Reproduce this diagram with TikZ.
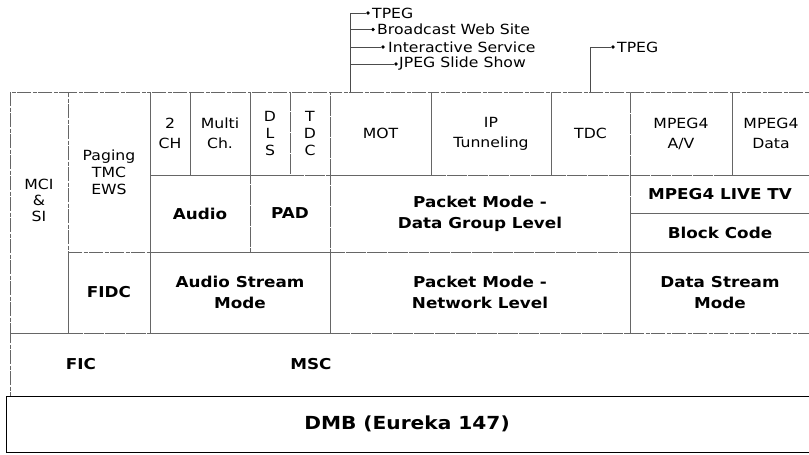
\documentclass[tikz,border=0pt]{standalone}
\usepackage{fontspec}
\setmainfont[FakeStretch=1.12]{DejaVu Sans}
\usetikzlibrary{positioning}

\tikzset{
  cell/.style={draw=black!60, line width=0.6pt, dash pattern=on 14pt off 1.5pt on 4pt off 1.5pt,
    inner sep=0pt, align=center, font=\fontsize{14}{17}\selectfont},
  boldcell/.style={cell, font=\bfseries\fontsize{15}{21}\selectfont},
  txt/.style={inner sep=0pt, align=center, font=\fontsize{14}{16}\selectfont},
  boldtxt/.style={inner sep=0pt, font=\bfseries\fontsize{15}{19}\selectfont},
  tree/.style={draw=black!70, line width=0.5pt},
  dot/.style={circle, fill=black, inner sep=0pt, minimum size=3.6pt},
  anno/.style={anchor=west, inner sep=0pt, font=\fontsize{14}{15}\selectfont}
}

\begin{document}
\begin{tikzpicture}[x=1pt, y=-1pt]
      \useasboundingbox (0,0) rectangle (809,455);
      % left columns
      \node[cell, minimum width=58pt, minimum height=241pt] (mci) at (39,212.5) {};
      \node[txt] (mcitxt) at (39,200) {MCI\\\&\\SI};
      \node[cell, minimum width=82pt, minimum height=160pt] (paging) at (109,172) {Paging\\TMC\\EWS};
      \node[boldcell, minimum width=82pt, minimum height=81pt] (fidc) at (109,292.5) {FIDC};
      % top row
      \node[cell, minimum width=40pt, minimum height=83pt] (ch2) at (170,133.5) {2\\[3pt]CH};
      \node[cell, minimum width=60pt, minimum height=83pt] (multi) at (220,133.5) {Multi\\[3pt]Ch.};
      \node[cell, minimum width=40pt, minimum height=83pt] (dls) at (270,133.5) {D\\L\\S};
      \node[cell, minimum width=40pt, minimum height=83pt] (tdcv) at (310,133.5) {T\\D\\C};
      \node[cell, minimum width=101pt, minimum height=83pt] (mot) at (380.5,133.5) {MOT};
      \node[cell, minimum width=120pt, minimum height=83pt] (ipt) at (491,133.5) {IP\\[3pt]Tunneling};
      \node[cell, minimum width=79pt, minimum height=83pt] (tdc) at (590.5,133.5) {TDC};
      \node[cell, minimum width=102pt, minimum height=83pt] (mpav) at (681,133.5) {MPEG4\\[3pt]A/V};
      \node[cell, minimum width=78pt, minimum height=83pt] (mpdata) at (771,133.5) {MPEG4\\[3pt]Data};
      % second row
      \node[boldcell, minimum width=100pt, minimum height=77pt] (audio) at (200,213.5) {Audio};
      \node[boldcell, minimum width=80pt, minimum height=77pt] (pad) at (290,213.5) {PAD};
      \node[boldcell, minimum width=300pt, minimum height=77pt] (dgl) at (480,213.5) {Packet Mode -\\Data Group Level};
      \node[boldcell, minimum width=180pt, minimum height=38pt] (live) at (720,194) {MPEG4 LIVE TV};
      \node[boldcell, minimum width=180pt, minimum height=39pt] (block) at (720,232.5) {Block Code};
      % third row
      \node[boldcell, minimum width=180pt, minimum height=81pt] (asm) at (240,292.5) {Audio Stream\\Mode};
      \node[boldcell, minimum width=300pt, minimum height=81pt] (netl) at (480,292.5) {Packet Mode -\\Network Level};
      \node[boldcell, minimum width=180pt, minimum height=81pt] (dsm) at (720,292.5) {Data Stream\\Mode};
      % channels
      \node[cell, minimum width=800pt, minimum height=63pt] (chan) at (410,364.5) {};
      \node[boldtxt] (fic) at (81,364) {FIC};
      \node[boldtxt] (msc) at (311,364) {MSC};
      \node[draw=black, line width=0.9pt, minimum width=804pt, minimum height=56pt, inner sep=0pt,
            font=\bfseries\fontsize{18}{22}\selectfont] (dmb) at (408,424) {\hspace{-2pt}DMB (Eureka 147)};
      % services above MOT and TDC
      \coordinate (motroot) at (350,92);
      \coordinate (tdcroot) at (590,92);
      \node[dot] (b1) at (368,13) {};
      \node[dot] (b2) at (373,29.5) {};
      \node[dot] (b3) at (383,47) {};
      \node[dot] (b4) at (396,64) {};
      \node[dot] (b5) at (613,47) {};
      \node[anno] (s1) at (372,13) {TPEG};
      \node[anno] (s2) at (377,29.5) {Broadcast Web Site};
      \node[anno] (s3) at (388,47) {Interactive Service};
      \node[anno] (s4) at (399,64) {JPEG Slide Show};
      \node[anno] (s5) at (617,47) {TPEG};
      \foreach \i in {1,2,3,4} {
        \draw[tree] (motroot) |- (b\i);
      }
      \draw[tree] (tdcroot) |- (b5);
    \end{tikzpicture}
\end{document}
